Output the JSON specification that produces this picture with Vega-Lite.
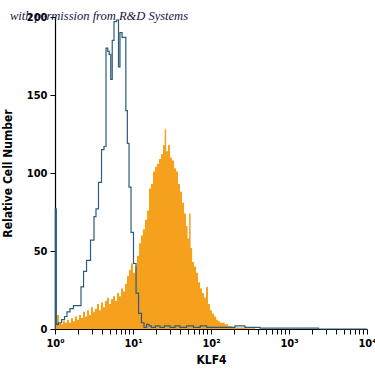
{
  "$schema": "https://vega.github.io/schema/vega-lite/v6.json",
  "width": 312,
  "height": 312,
  "autosize": {"type": "none"},
  "padding": {"left": 55, "top": 17, "right": 8, "bottom": 46},
  "background": "white",
  "config": {"view": {"stroke": null}},
  "title": {
    "text": "with permission from R&D Systems",
    "anchor": "start",
    "frame": "group",
    "dx": -45,
    "dy": 11,
    "font": "Liberation Serif",
    "fontStyle": "italic",
    "fontWeight": "normal",
    "fontSize": 12.5,
    "color": "#14143f",
    "offset": 0
  },
  "datasets": {
    "orange": [
      {"x": 1.0, "y": 8}, {"x": 1.09, "y": 9}, {"x": 1.16, "y": 4}, {"x": 1.23, "y": 3},
      {"x": 1.30, "y": 5}, {"x": 1.38, "y": 4}, {"x": 1.47, "y": 6}, {"x": 1.56, "y": 4},
      {"x": 1.65, "y": 7}, {"x": 1.75, "y": 5}, {"x": 1.86, "y": 8}, {"x": 1.97, "y": 6},
      {"x": 2.09, "y": 9}, {"x": 2.22, "y": 7}, {"x": 2.35, "y": 11}, {"x": 2.50, "y": 8},
      {"x": 2.65, "y": 12}, {"x": 2.81, "y": 9}, {"x": 2.98, "y": 14}, {"x": 3.16, "y": 11},
      {"x": 3.35, "y": 13}, {"x": 3.56, "y": 16}, {"x": 3.78, "y": 12}, {"x": 4.00, "y": 17},
      {"x": 4.25, "y": 14}, {"x": 4.51, "y": 18}, {"x": 4.78, "y": 20}, {"x": 5.07, "y": 16},
      {"x": 5.38, "y": 19}, {"x": 5.71, "y": 21}, {"x": 6.06, "y": 18}, {"x": 6.42, "y": 23},
      {"x": 6.81, "y": 21}, {"x": 7.23, "y": 26}, {"x": 7.67, "y": 24}, {"x": 8.14, "y": 29},
      {"x": 8.63, "y": 34}, {"x": 9.16, "y": 38}, {"x": 9.71, "y": 42}, {"x": 10.3, "y": 36},
      {"x": 10.9, "y": 40}, {"x": 11.6, "y": 47}, {"x": 12.3, "y": 55}, {"x": 13.0, "y": 60},
      {"x": 13.8, "y": 64}, {"x": 14.7, "y": 70}, {"x": 15.6, "y": 76}, {"x": 16.5, "y": 90},
      {"x": 17.5, "y": 93}, {"x": 18.6, "y": 101}, {"x": 19.7, "y": 104}, {"x": 20.9, "y": 106},
      {"x": 22.2, "y": 109}, {"x": 23.5, "y": 112}, {"x": 25.0, "y": 118}, {"x": 26.0, "y": 128},
      {"x": 27.3, "y": 114}, {"x": 29.0, "y": 118}, {"x": 30.7, "y": 110}, {"x": 32.6, "y": 108},
      {"x": 34.6, "y": 103}, {"x": 36.6, "y": 101}, {"x": 38.9, "y": 93}, {"x": 41.2, "y": 88},
      {"x": 43.8, "y": 81}, {"x": 46.4, "y": 74}, {"x": 49.2, "y": 66}, {"x": 51.0, "y": 58},
      {"x": 53.8, "y": 74}, {"x": 55.8, "y": 52}, {"x": 58.8, "y": 43}, {"x": 62.4, "y": 40},
      {"x": 66.2, "y": 36}, {"x": 70.2, "y": 30}, {"x": 74.5, "y": 26}, {"x": 78.9, "y": 23},
      {"x": 83.7, "y": 20}, {"x": 88.9, "y": 27}, {"x": 94.3, "y": 16}, {"x": 100, "y": 12},
      {"x": 106, "y": 10}, {"x": 113, "y": 8}, {"x": 120, "y": 6}, {"x": 127, "y": 5},
      {"x": 135, "y": 4}, {"x": 143, "y": 4}, {"x": 156, "y": 3}, {"x": 175, "y": 2},
      {"x": 202, "y": 1}, {"x": 235, "y": 1}, {"x": 316, "y": 0.5}, {"x": 424, "y": 0}
    ],
    "blue": [
      {"x": 1.0, "y": 0}, {"x": 1.02, "y": 77}, {"x": 1.06, "y": 3}, {"x": 1.16, "y": 4},
      {"x": 1.27, "y": 6}, {"x": 1.38, "y": 8}, {"x": 1.47, "y": 11}, {"x": 1.65, "y": 13},
      {"x": 1.80, "y": 15}, {"x": 2.09, "y": 15}, {"x": 2.22, "y": 27}, {"x": 2.43, "y": 37},
      {"x": 2.65, "y": 44}, {"x": 3.07, "y": 57}, {"x": 3.26, "y": 72}, {"x": 3.45, "y": 77},
      {"x": 3.78, "y": 94}, {"x": 4.12, "y": 115}, {"x": 4.38, "y": 117}, {"x": 4.64, "y": 180},
      {"x": 4.85, "y": 178}, {"x": 5.07, "y": 176}, {"x": 5.3, "y": 160}, {"x": 5.54, "y": 185},
      {"x": 5.88, "y": 197}, {"x": 6.42, "y": 198}, {"x": 6.62, "y": 168}, {"x": 7.0, "y": 190},
      {"x": 7.5, "y": 187}, {"x": 7.89, "y": 187}, {"x": 8.3, "y": 140}, {"x": 8.63, "y": 119},
      {"x": 9.16, "y": 91}, {"x": 9.71, "y": 62}, {"x": 10.6, "y": 42}, {"x": 11.3, "y": 23},
      {"x": 12.3, "y": 10}, {"x": 13.4, "y": 4}, {"x": 14.3, "y": 1}, {"x": 15.6, "y": 3},
      {"x": 16.5, "y": 2}, {"x": 18, "y": 1}, {"x": 20.9, "y": 2}, {"x": 23.5, "y": 1},
      {"x": 27.3, "y": 2}, {"x": 32.6, "y": 1}, {"x": 36.6, "y": 2}, {"x": 43.8, "y": 1},
      {"x": 53.8, "y": 2}, {"x": 66, "y": 1}, {"x": 80, "y": 2}, {"x": 97, "y": 1},
      {"x": 123, "y": 1}, {"x": 175, "y": 1}, {"x": 235, "y": 2}, {"x": 316, "y": 1},
      {"x": 570, "y": 0.5}, {"x": 10000, "y": 0}
    ]
  },
  "encoding": {
    "x": {
      "field": "x",
      "type": "quantitative",
      "scale": {"type": "log", "domain": [1, 10000], "nice": false},
      "axis": {
        "title": "KLF4",
        "values": [1,2,3,4,5,6,7,8,9,10,20,30,40,50,60,70,80,90,100,200,300,400,500,600,700,800,900,1000,2000,3000,4000,5000,6000,7000,8000,9000,10000],
        "labelExpr": "datum.value == 1 ? '10⁰' : datum.value == 10 ? '10¹' : datum.value == 100 ? '10²' : datum.value == 1000 ? '10³' : datum.value == 10000 ? '10⁴' : ''",
        "labelOverlap": false,
        "labelFlush": false,
        "grid": false,
        "domainColor": "#000000",
        "domainWidth": 1.2,
        "tickColor": "#000000",
        "tickSize": 5,
        "labelFont": "DejaVu Sans Condensed",
        "labelFontWeight": "bold",
        "labelFontSize": 11,
        "labelColor": "#000000",
        "labelPadding": 3,
        "titleFont": "DejaVu Sans Condensed",
        "titleFontWeight": "bold",
        "titleFontSize": 12,
        "titleColor": "#000000",
        "titlePadding": 6
      }
    },
    "y": {
      "field": "y",
      "type": "quantitative",
      "scale": {"domain": [0, 200], "nice": false},
      "axis": {
        "title": "Relative Cell Number",
        "values": [0, 50, 100, 150, 200],
        "grid": false,
        "domainColor": "#000000",
        "domainWidth": 1.2,
        "tickColor": "#000000",
        "tickSize": 5,
        "labelFont": "DejaVu Sans Condensed",
        "labelFontWeight": "bold",
        "labelFontSize": 11,
        "labelColor": "#000000",
        "labelPadding": 3,
        "titleFont": "DejaVu Sans Condensed",
        "titleFontWeight": "bold",
        "titleFontSize": 12,
        "titleColor": "#000000",
        "titlePadding": 12
      }
    }
  },
  "layer": [
    {
      "data": {"name": "orange"},
      "mark": {"type": "area", "interpolate": "step", "color": "#f6a11e", "opacity": 1}
    },
    {
      "data": {"name": "blue"},
      "mark": {"type": "line", "interpolate": "step", "color": "#2b5c7c", "strokeWidth": 1.2}
    }
  ]
}
